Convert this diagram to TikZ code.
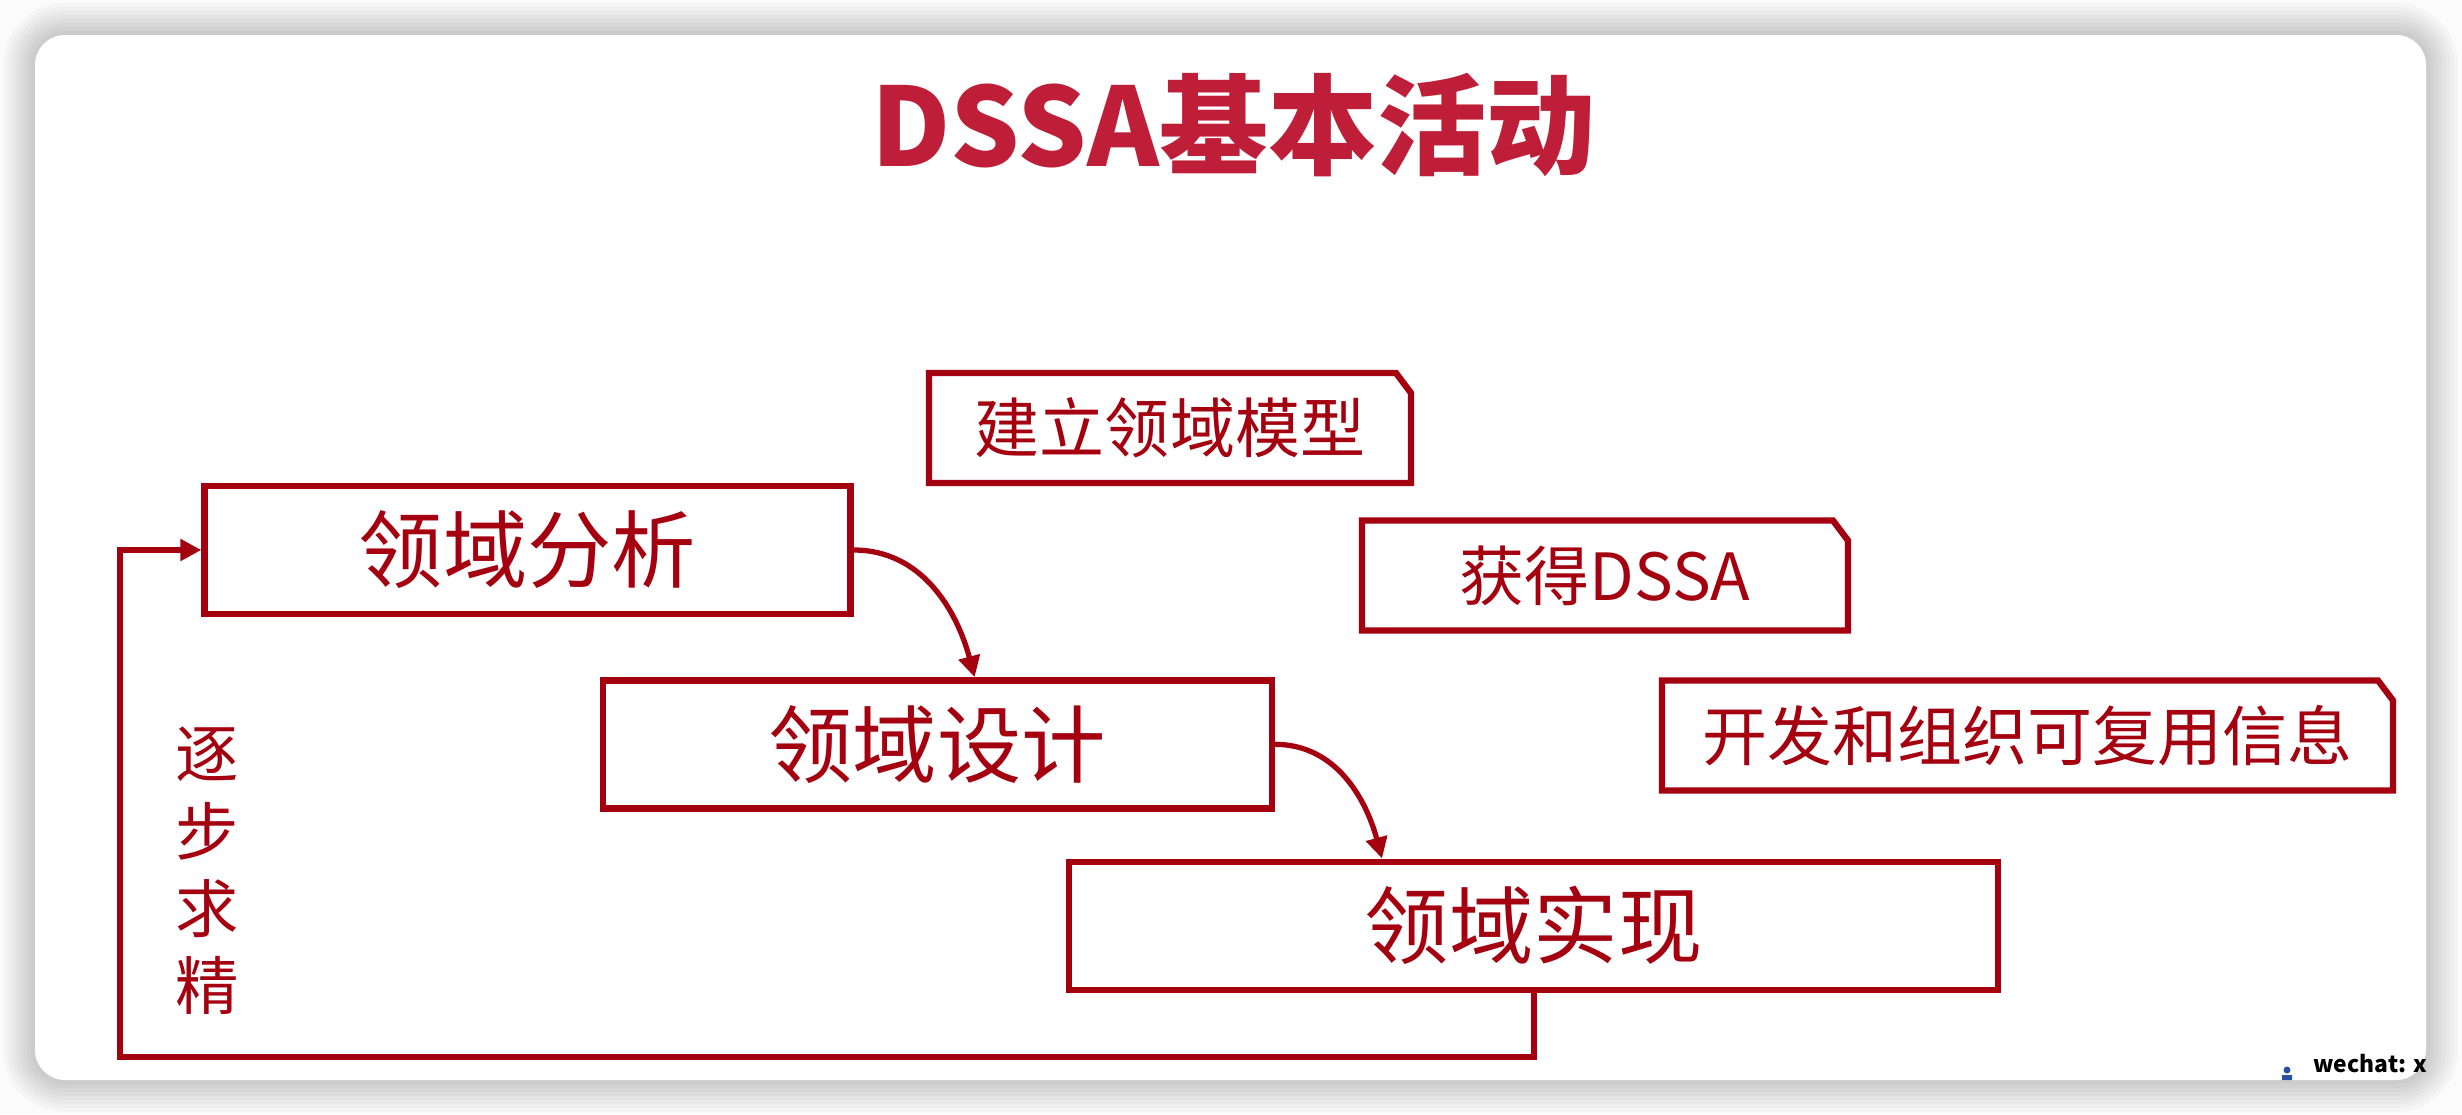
\documentclass[tikz,border=0pt]{standalone}
\usepackage{fontspec}
\usepackage{tikz}
\usetikzlibrary{arrows.meta,positioning}
\newfontfamily\cjk{Noto Sans CJK SC}
\definecolor{boxred}{RGB}{165,0,16}
\definecolor{titlered}{RGB}{190,30,55}
\definecolor{iconblue}{RGB}{40,80,160}

\begin{document}
\begin{tikzpicture}[>={Triangle[length=6pt,width=6pt]},
    stage/.style={draw=boxred, line width=1.8pt, fill=white, text=boxred,
      minimum height=1.28cm, inner sep=0pt, font=\cjk\fontsize{24}{24}\selectfont},
    note/.style={outer sep=0pt, inner sep=0pt, minimum height=1.10cm, text=boxred,
      font=\cjk\fontsize{18.5}{18.5}\selectfont},
    flow/.style={->, draw=boxred, line width=1.8pt}]
  % page, shadow and card
  \fill[gray!3] (0,0) rectangle (24.62,-11.14);
  \useasboundingbox (0,0) rectangle (24.62,-11.14);
  \foreach \s [evaluate=\s as \r using 0.3+\s*0.04] in {1,...,8}
    \fill[black, opacity=0.022, rounded corners=\r cm]
      (0.35-\s*0.04,-0.35+\s*0.04) rectangle (24.26+\s*0.04,-10.80-\s*0.04);
  \fill[white, rounded corners=0.3cm] (0.35,-0.35) rectangle (24.26,-10.80);

  \node[text=titlered, font=\cjk\bfseries\fontsize{31}{31}\selectfont] (title)
    at (12.33,-1.25) {DSSA基本活动};

  % the three steps
  \node[stage, minimum width=6.46cm] (ana) at (5.275,-5.50) {领域分析};
  \node[stage, minimum width=6.69cm] (design) [below right=0.60cm and -2.54cm of ana] {领域设计};
  \node[stage, minimum width=9.29cm] (impl) [below right=0.47cm and -2.09cm of design] {领域实现};

  % what each step gives
  \node[note, minimum width=4.82cm] (model) at (11.70,-4.28) {建立领域模型};
  \node[note, minimum width=4.86cm] (getdssa) at (16.05,-5.755) {获得DSSA};
  \node[note, minimum width=7.31cm] (reuse) at (20.275,-7.355) {开发和组织可复用信息};
  \foreach \n in {model,getdssa,reuse}
    \draw[boxred, line width=1.8pt] (\n.north west) -- ([xshift=-0.15cm]\n.north east)
      -- ([yshift=-0.2cm]\n.north east) -- (\n.south east) -- (\n.south west) -- cycle;

  \draw[flow, line width=1.5pt] (ana.east) to[out=0, in=105] ([xshift=3.75cm]design.north west);
  \draw[flow, line width=1.5pt] (design.east) to[out=0, in=105] ([xshift=3.16cm]impl.north west);
  \coordinate (back) at (1.20,-10.57);
  \draw[flow] (impl.south) |- (back) |- (ana.west);
  \node[text=boxred, align=center, font=\cjk\fontsize{18}{22}\selectfont] (refine)
    at (2.07,-8.71) {逐\\步\\求\\精};

  % watermark
  \fill[iconblue] (22.87,-10.70) circle (0.035) (22.82,-10.80) rectangle (22.92,-10.75);
  \node[anchor=base west, inner sep=0pt, font=\cjk\bfseries\fontsize{6.5}{8}\selectfont] (mark)
    at (23.13,-10.72) {wechat: x};
\end{tikzpicture}
\end{document}
